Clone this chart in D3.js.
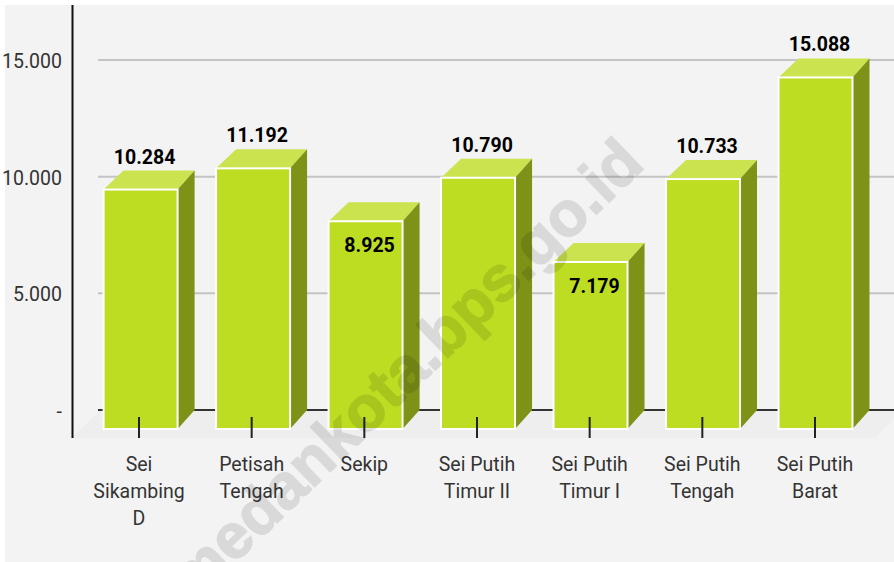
<!DOCTYPE html>
<html><head><meta charset="utf-8">
<style>html,body{margin:0;padding:0;background:#fff}svg{display:block}text{font-family:Roboto,sans-serif}</style>
<script src="https://cdn.jsdelivr.net/npm/d3@7"></script></head><body><div id="c"></div>
<script>
const categories=[["Sei","Sikambing","D"],["Petisah","Tengah"],["Sekip"],["Sei Putih","Timur II"],["Sei Putih","Timur I"],["Sei Putih","Tengah"],["Sei Putih","Barat"]];
const values=[10284,11192,8925,10790,7179,10733,15088];
const valueLabels=["10.284","11.192","8.925","10.790","7.179","10.733","15.088"];
const yTicks=[0,5000,10000,15000];
const yTickLabels=["-","5.000","10.000","15.000"];
const watermark="medankota.bps.go.id";
const W=894,H=562,dx=17,dy=-19,barW=74;
const svg=d3.select("#c").append("svg").attr("width",W).attr("height",H);
svg.append("rect").attr("x",5).attr("y",5).attr("width",W-5).attr("height",H-5).attr("fill","#f3f3f3");
const y=d3.scaleLinear().domain([0,15000]).range([410,60]);
const idx=d3.range(values.length);
const xBar=d3.scalePoint().domain(idx).range([140.6,815.5]);
const xTick=d3.scalePoint().domain(idx).range([139,815]);
const front=v=>y(v)-dy+(v>0?0.5:0);
// floor
svg.append("path").attr("d",d3.line()([[72,438],[100,410],[894,410],[894,419],[875,438]])).attr("fill","#eeeeee");
// grid
svg.selectAll(".g").data(yTicks).join("line").attr("x1",98).attr("x2",W).attr("y1",d=>y(d)).attr("y2",d=>y(d))
 .attr("stroke",d=>d===0?"#333":"#c4c4c4").attr("stroke-width",2);
// y axis
svg.append("line").attr("x1",72.5).attr("x2",72.5).attr("y1",5).attr("y2",438).attr("stroke","#111").attr("stroke-width",2);
svg.selectAll(".yl").data(yTicks).join("text").attr("x",62).attr("y",d=>y(d)+8).attr("text-anchor","end")
 .attr("font-size",19.5).attr("fill","#333").text((d,i)=>yTickLabels[i]);
// bars
const g=svg.selectAll(".b").data(idx).join("g");
g.append("path").attr("fill","#cbe34f").attr("d",i=>{const l=xBar(i)-barW/2,r=l+barW,t=front(values[i]);return d3.line()([[l,t],[l+dx+3,t+dy],[r+dx,t+dy],[r,t]])});
g.append("path").attr("fill","#7e9217").attr("d",i=>{const r=xBar(i)+barW/2,t=front(values[i]),b=front(0);return d3.line()([[r,t],[r+dx,t+dy],[r+dx,b+dy],[r,b]])});
g.append("rect").attr("x",i=>xBar(i)-barW/2).attr("y",i=>front(values[i])).attr("width",barW).attr("height",i=>front(0)-front(values[i]))
 .attr("fill","#bcdd22").attr("stroke","#fff").attr("stroke-width",2);
// ticks
svg.selectAll(".t").data(idx).join("line").attr("x1",i=>xTick(i)).attr("x2",i=>xTick(i)).attr("y1",417).attr("y2",438).attr("stroke","#222").attr("stroke-width",2);
// watermark
svg.append("g").attr("opacity",0.1).append("text").attr("transform","translate(193,604) rotate(-44)").style("font-family","'Liberation Sans',sans-serif").attr("font-size",63).attr("font-weight",700)
 .attr("fill","#000").attr("stroke","#000").attr("stroke-width",1.6).text(watermark);
// category labels
svg.selectAll(".c").data(idx).join("text").attr("text-anchor","middle").attr("font-size",19.5).attr("fill","#333")
 .each(function(i){d3.select(this).selectAll("tspan").data(categories[i]).join("tspan").attr("x",xTick(i)).attr("y",(d,k)=>471+k*27).text(d=>d)});
// value labels
svg.selectAll(".v").data(idx).join("text").attr("text-anchor","middle").attr("font-size",19.5).attr("font-weight",700).attr("fill","#000")
 .attr("x",i=>xBar(i)+4).attr("y",i=>values[i]<10000?front(values[i])+31:front(values[i])+dy-7).text(i=>valueLabels[i]);
</script></body></html>
